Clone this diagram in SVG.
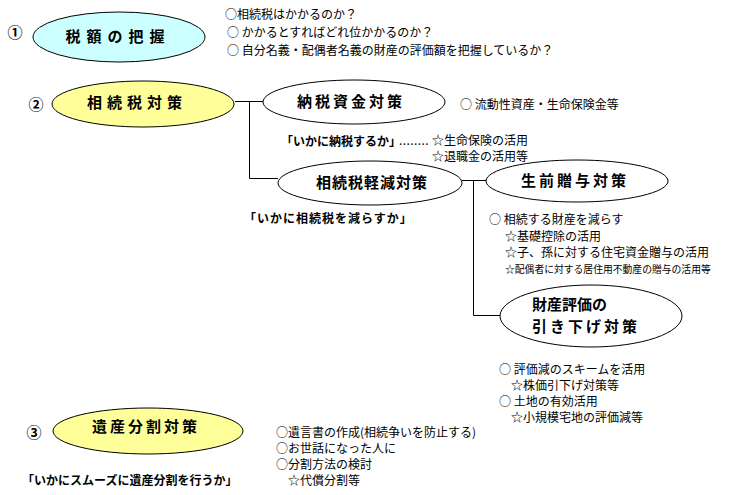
<svg xmlns="http://www.w3.org/2000/svg" width="732" height="495" viewBox="0 0 732 495">
<style>
text{font-family:"Noto Sans CJK JP","Noto Sans CJK SC",sans-serif;fill:#000}
.t{font-size:12px}
.b{font-size:12px;font-weight:bold}
.h{font-size:15px;font-weight:bold;text-anchor:middle}
.n{font-size:15px;font-weight:bold;text-anchor:middle}
.e{stroke:#000;stroke-width:1}
.w{fill:#fff}
.y{fill:#ffff99}
.c{fill:#ccffff}
.ln{fill:none;stroke:#000;stroke-width:1}
</style>
<rect width="732" height="495" fill="#fff"/>
<g id="connectors">
<path class="ln" d="M235,101.5 H263 M249.5,101.5 V178.5 H278"/>
<path class="ln" d="M462,180.5 H487 M473.5,180.5 V315.5 H501"/>
</g>
<g id="n1">
<text class="n" x="15" y="38">①</text>
<ellipse class="e c" cx="119" cy="37" rx="86" ry="25"/>
<text class="h" x="118" y="42" letter-spacing="6">税額の把握</text>
<text class="t" x="225" y="19">○相続税はかかるのか？</text>
<text class="t" x="227" y="37">○ かかるとすればどれ位かかるのか？</text>
<text class="t" x="227" y="55">○ 自分名義・配偶者名義の財産の評価額を把握しているか？</text>
</g>
<g id="n2">
<text class="n" x="36" y="110">②</text>
<ellipse class="e y" cx="143" cy="104" rx="91" ry="23"/>
<text class="h" x="137" y="108" letter-spacing="5">相続税対策</text>
</g>
<g id="n2a">
<ellipse class="e w" cx="354" cy="102" rx="91" ry="22"/>
<text class="h" x="351" y="107" letter-spacing="3">納税資金対策</text>
<text class="t" x="460" y="109">○ 流動性資産・生命保険金等</text>
<text class="b" x="281" y="146">「いかに納税するか」</text>
<text class="t" font-family="Liberation Sans" x="399" y="145" letter-spacing="0.4">........</text>
<text class="t" x="432" y="145">☆生命保険の活用</text>
<text class="t" x="432" y="161">☆退職金の活用等</text>
</g>
<g id="n2b">
<ellipse class="e w" cx="370" cy="183" rx="92" ry="22"/>
<text class="h" x="372" y="188" letter-spacing="1">相続税軽減対策</text>
<text class="b" x="244" y="223" letter-spacing="1">「いかに相続税を減らすか」</text>
</g>
<g id="n2b1">
<ellipse class="e w" cx="577" cy="181" rx="91" ry="21"/>
<text class="h" x="575" y="186" letter-spacing="3">生前贈与対策</text>
<text class="t" x="489" y="224">○ 相続する財産を減らす</text>
<text class="t" x="505" y="241">☆基礎控除の活用</text>
<text class="t" x="505" y="257">☆子、孫に対する住宅資金贈与の活用</text>
<text class="t" x="505" y="273" style="font-size:9.8px">☆配偶者に対する居住用不動産の贈与の活用等</text>
</g>
<g id="n2b2">
<ellipse class="e w" cx="591" cy="316" rx="91" ry="31"/>
<text class="h" x="532" y="310" style="text-anchor:start">財産評価の</text>
<text class="h" x="532" y="332" style="text-anchor:start" letter-spacing="3">引き下げ対策</text>
<text class="t" x="499" y="374">○ 評価減のスキームを活用</text>
<text class="t" x="511" y="390">☆株価引下げ対策等</text>
<text class="t" x="499" y="406">○ 土地の有効活用</text>
<text class="t" x="511" y="422">☆小規模宅地の評価減等</text>
</g>
<g id="n3">
<text class="n" x="34" y="438">③</text>
<ellipse class="e y" cx="148" cy="431" rx="95" ry="23"/>
<text class="h" x="146" y="432" letter-spacing="3">遺産分割対策</text>
<text class="b" x="22" y="485">「いかにスムーズに遺産分割を行うか」</text>
<text class="t" x="276" y="437">○遺言書の作成(相続争いを防止する)</text>
<text class="t" x="276" y="453">○お世話になった人に</text>
<text class="t" x="276" y="469">○分割方法の検討</text>
<text class="t" x="288" y="485">☆代償分割等</text>
</g>
</svg>
